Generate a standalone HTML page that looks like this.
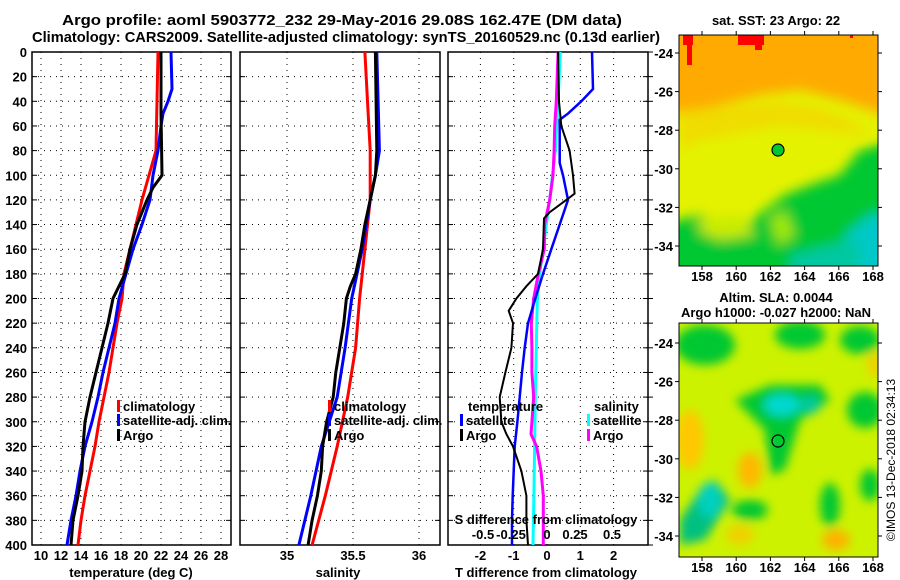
<!DOCTYPE html>
<html><head><meta charset="utf-8"><style>
html,body{margin:0;padding:0;background:#fff;}
svg{display:block;font-family:"Liberation Sans",sans-serif;font-weight:bold;}
</style></head><body>
<svg id="fig" width="900" height="580" viewBox="0 0 900 580" xmlns="http://www.w3.org/2000/svg">
<defs>
<filter id="blur1" x="-20%" y="-20%" width="140%" height="140%"><feGaussianBlur stdDeviation="6"/></filter>
<filter id="blur2" x="-20%" y="-20%" width="140%" height="140%"><feGaussianBlur stdDeviation="5"/></filter>
<clipPath id="cm1"><rect x="679" y="35" width="199" height="231"/></clipPath>
<clipPath id="cm2"><rect x="679" y="323" width="199" height="234"/></clipPath>
</defs>
<text x="62" y="25" font-size="15" textLength="560" lengthAdjust="spacingAndGlyphs">Argo profile: aoml 5903772_232 29-May-2016 29.08S 162.47E (DM data)</text>
<text x="32" y="42" font-size="15" textLength="628" lengthAdjust="spacingAndGlyphs">Climatology: CARS2009. Satellite-adjusted climatology: synTS_20160529.nc (0.13d earlier)</text>
<g id="plots"></g>

<!-- Map 1 -->
<g clip-path="url(#cm1)">
<rect x="679" y="35" width="199" height="231" fill="#e4f200"/>
<g filter="url(#blur1)">
<polygon points="660,20 900,20 900,120 870,110 840,100 800,90 760,95 720,105 690,112 660,112" fill="#ffaa00"/>
<polygon points="680,110 740,105 780,102 820,108 850,120 870,135 780,125 700,140 680,150" fill="#f2d600" opacity="0.8"/>
<polygon points="660,225 700,215 740,230 765,210 785,195 810,185 840,175 860,150 900,140 900,300 660,300" fill="#00c832"/>
<polygon points="845,235 870,215 900,210 900,300 840,300" fill="#00c8c8"/>
<polygon points="790,255 830,245 860,240 860,300 790,300" fill="#00c8a0"/>
<polygon points="700,220 740,215 755,235 720,240 700,232" fill="#c8ec00"/>
<polygon points="770,220 785,210 795,235 778,245" fill="#a0e800"/>
</g>
<rect x="683" y="35" width="10" height="10" fill="#ff0000"/>
<rect x="687" y="45" width="5" height="20" fill="#ff0000"/>
<rect x="738" y="35" width="26" height="10" fill="#ff0000"/>
<rect x="755" y="45" width="7" height="5" fill="#ff0000"/>
<rect x="850" y="35" width="3" height="3" fill="#ff0000"/>
</g>
<rect x="679" y="35" width="199" height="231" fill="none" stroke="#000"/>
<circle cx="778" cy="150" r="6" fill="#00c832" stroke="#000" stroke-width="1.2"/>
<text x="776" y="25" font-size="13" text-anchor="middle">sat. SST: 23 Argo: 22</text>

<!-- Map 2 -->
<g clip-path="url(#cm2)">
<rect x="679" y="323" width="199" height="234" fill="#ccf200"/>
<g filter="url(#blur2)">
<ellipse cx="705" cy="345" rx="30" ry="20" fill="#00c832"/>
<ellipse cx="800" cy="335" rx="25" ry="14" fill="#00c832"/>
<ellipse cx="860" cy="340" rx="20" ry="14" fill="#00c832"/>
<polygon points="735,400 770,385 820,385 830,400 800,420 785,470 770,475 765,430" fill="#00c832"/>
<ellipse cx="782" cy="405" rx="18" ry="11" fill="#00d8d0"/>
<ellipse cx="810" cy="405" rx="10" ry="9" fill="#00c8a0"/>
<ellipse cx="865" cy="410" rx="18" ry="18" fill="#00c832"/>
<polygon points="680,520 700,490 715,480 730,500 705,540 680,545" fill="#00c080"/>
<ellipse cx="710" cy="500" rx="12" ry="18" fill="#00d0c0"/>
<ellipse cx="750" cy="510" rx="18" ry="10" fill="#00c832"/>
<ellipse cx="830" cy="505" rx="10" ry="22" fill="#00c832"/>
<ellipse cx="870" cy="485" rx="10" ry="16" fill="#00c832"/>
<ellipse cx="690" cy="440" rx="14" ry="30" fill="#ffc800"/>
<ellipse cx="750" cy="470" rx="12" ry="18" fill="#ffb800"/>
<ellipse cx="836" cy="540" rx="14" ry="10" fill="#ffb000"/>
<ellipse cx="740" cy="535" rx="14" ry="10" fill="#f0d000"/>
<ellipse cx="875" cy="365" rx="8" ry="12" fill="#f0d000"/>
</g>
</g>
<rect x="679" y="323" width="199" height="234" fill="none" stroke="#000"/>
<circle cx="778" cy="441" r="6" fill="none" stroke="#000" stroke-width="1.2"/>
<text x="776" y="302" font-size="13" text-anchor="middle">Altim. SLA: 0.0044</text>
<text x="776" y="317" font-size="13" text-anchor="middle">Argo h1000: -0.027 h2000: NaN</text>
<text transform="translate(895,460) rotate(-90)" font-size="12" font-weight="normal" text-anchor="middle">©IMOS 13-Dec-2018 02:34:13</text>
<g id="mapaxes"></g>
</svg>
<script>
// ---- data ----
const depthTicks = [0,20,40,60,80,100,120,140,160,180,200,220,240,260,280,300,320,340,360,380,400];
const tempTicks = [10,12,14,16,18,20,22,24,26,28];
const salTicks = [35,35.5,36];
const tdiffTicks = [-2,-1,0,1,2];
const sdiffTickLabels = ["-0.5","-0.25","0","0.25","0.5"];
const sdiffTickValues = [-0.5,-0.25,0,0.25,0.5];

const tClimDepth = [0,80,120,140,160,180,200,220,240,260,280,300,320,340,360,380,400];
const tClim = [21.7,21.5,20.1,19.5,18.9,18.3,18.1,17.6,17.2,16.8,16.3,15.8,15.4,14.9,14.4,14.0,13.7];
const tSatDepth = [0,30,40,50,60,80,100,120,140,160,180,200,220,240,260,280,300,320,340,360,380,400];
const tSat = [23.0,23.1,22.7,22.2,22.0,21.7,21.2,20.9,20.1,19.2,18.5,17.8,17.4,16.8,16.2,15.7,15.1,14.4,13.9,13.5,13.0,12.6];
const tArgoDepth = [0,50,100,110,120,140,160,180,200,220,240,260,280,300,320,340,360,380,400];
const tArgo = [22.0,22.0,22.1,21.2,20.6,19.6,18.9,18.4,17.2,16.7,16.1,15.5,14.9,14.4,14.2,14.1,13.7,13.2,13.0];

const sClimDepth = [0,40,80,120,160,200,240,280,320,360,400];
const sClim = [35.59,35.61,35.63,35.63,35.59,35.55,35.52,35.46,35.38,35.29,35.19];
const sSatDepth = [0,40,80,100,120,140,160,180,200,240,280,320,360,400];
const sSat = [35.68,35.69,35.70,35.67,35.63,35.60,35.57,35.53,35.49,35.44,35.38,35.26,35.18,35.09];
const sArgoDepth = [0,80,100,110,120,140,160,180,190,200,220,240,260,280,300,320,340,360,380,400];
const sArgo = [35.67,35.68,35.67,35.65,35.63,35.59,35.56,35.52,35.48,35.45,35.43,35.40,35.37,35.35,35.30,35.27,35.26,35.23,35.19,35.16];

const dTSatDepth = [0,30,40,50,55,90,100,120,140,160,180,200,220,240,260,280,300,320,340,360,380,400];
const dTSat = [1.35,1.38,1.03,0.63,0.38,0.38,0.48,0.63,0.38,0.13,-0.12,-0.35,-0.57,-0.67,-0.75,-0.82,-0.89,-0.97,-1.0,-1.03,-1.05,-1.05];
const dTArgoDepth = [0,40,60,80,100,115,120,130,135,160,180,190,200,210,220,240,260,280,300,310,320,340,360,380,400];
const dTArgo = [0.33,0.36,0.43,0.68,0.78,0.83,0.58,0.08,-0.09,-0.12,-0.27,-0.62,-0.92,-1.15,-1.02,-1.07,-1.25,-1.42,-1.37,-1.22,-1.02,-0.77,-0.62,-0.62,-0.57];
const dSSatDepth = [0,40,80,120,160,180,200,240,280,320,360,400];
const dSSat = [0.10,0.083,0.062,0.02,-0.03,-0.055,-0.073,-0.08,-0.088,-0.093,-0.098,-0.105];
const dSArgoDepth = [0,40,60,80,100,120,140,160,180,200,220,240,260,280,300,310,320,340,360,380,400];
const dSArgo = [0.083,0.07,0.058,0.053,0.045,0.02,-0.018,-0.02,-0.065,-0.1,-0.118,-0.113,-0.113,-0.1,-0.113,-0.12,-0.078,-0.045,-0.028,-0.028,-0.028];

const lonTicks = [158,160,162,164,166,168];
const latTicks = [-24,-26,-28,-30,-32,-34];

// ---- drawing ----
const NS = "http://www.w3.org/2000/svg";
const root = document.getElementById('plots');
function mk(tag, attrs, parent){ const e=document.createElementNS(NS,tag); for(const k in attrs) e.setAttribute(k,attrs[k]); (parent||root).appendChild(e); return e; }
const PT = 52, PB = 545;
const yD = d => PT + (d/400)*(PB-PT);

function panel(name, x0, x1, xScale, ticks, labels){
  const g = mk('g',{});
  
  
  depthTicks.forEach(d=>{ if(d>0&&d<400){ const l=mk('line',{x1:x0,x2:x1,y1:yD(d),y2:yD(d),stroke:'#000','stroke-width':1,'stroke-dasharray':'1,5'},g);   }
    mk('line',{x1:x0,x2:x0+5,y1:yD(d),y2:yD(d),stroke:'#000'},g); mk('line',{x1:x1-5,x2:x1,y1:yD(d),y2:yD(d),stroke:'#000'},g); });
  ticks.forEach(t=>{ const x=xScale(t); const l=mk('line',{x1:x,x2:x,y1:PT,y2:PB,stroke:'#000','stroke-width':1,'stroke-dasharray':'1,5'},g);   });
  const fr = mk('rect',{x:x0,y:PT,width:x1-x0,height:PB-PT,fill:'none',stroke:'#000','stroke-width':1.5},g);
  
  
  if(labels){ ticks.forEach((t,i)=>{ const tx=mk('text',{x:xScale(t),y:560,'font-size':13,'text-anchor':'middle'},g); tx.textContent=labels[i];
      }); }
  return g;
}
function series(g, name, depths, vals, xScale, color, w){
  const pts = depths.map((d,i)=>xScale(vals[i]).toFixed(1)+','+yD(d).toFixed(1)).join(' ');
  const p = mk('polyline',{points:pts,fill:'none',stroke:color,'stroke-width':w,'stroke-linejoin':'miter'},g);
  
  
}
function txt(s,x,y,size,anchor,name){ const t=mk('text',{x:x,y:y,'font-size':size,'text-anchor':anchor||'start'}); t.textContent=s;
    return t; }
function legend(x,y,color,label,name){ const r=mk('rect',{x:x,y:y-11,width:3,height:12,fill:color});
   
  txt(label,x+6,y,13,'start',name+'-label'); }

depthTicks.forEach(d=>{ txt(String(d),27,yD(d)+5,13,'end','y-tick-label'); });

const xT = t => 41 + (t-10)*10;
const g1 = panel('temperature-panel',32,231,xT,tempTicks,tempTicks.map(String));
series(g1,'temp-climatology-line',tClimDepth,tClim,xT,'#ff0000',3);
series(g1,'temp-satellite-line',tSatDepth,tSat,xT,'#0000ff',3);
series(g1,'temp-argo-line',tArgoDepth,tArgo,xT,'#000000',3);
txt('temperature (deg C)',131,577,13,'middle','temperature-axis-title');
legend(117,411,'#ff0000','climatology','legend-climatology');
legend(117,425,'#0000ff','satellite-adj. clim.','legend-satellite');
legend(117,440,'#000000','Argo','legend-argo');

const xS = s => 287 + (s-35)*132;
const g2 = panel('salinity-panel',240,440,xS,salTicks,['35','35.5','36']);
series(g2,'sal-climatology-line',sClimDepth,sClim,xS,'#ff0000',3);
series(g2,'sal-satellite-line',sSatDepth,sSat,xS,'#0000ff',3);
series(g2,'sal-argo-line',sArgoDepth,sArgo,xS,'#000000',3);
txt('salinity',338,577,13,'middle','salinity-axis-title');
legend(328,411,'#ff0000','climatology','legend-sal-climatology');
legend(328,425,'#0000ff','satellite-adj. clim.','legend-sal-satellite');
legend(328,440,'#000000','Argo','legend-sal-argo');

const xDT = v => 547 + v*33.3;
const xDS = v => 547 + v*133.3;
const g3 = panel('difference-panel',448,648,xDT,tdiffTicks,tdiffTicks.map(String));
depthTicks.forEach(d=>{ mk('line',{x1:648,x2:653,y1:yD(d),y2:yD(d),stroke:'#000'},g3); });
series(g3,'sdiff-satellite-line',dSSatDepth,dSSat,xDS,'#00ffff',3);
series(g3,'sdiff-argo-line',dSArgoDepth,dSArgo,xDS,'#ff00ff',3);
series(g3,'tdiff-satellite-line',dTSatDepth,dTSat,xDT,'#0000ff',2.5);
series(g3,'tdiff-argo-line',dTArgoDepth,dTArgo,xDT,'#000000',2);
txt('S difference from climatology',546,524,13,'middle','sdiff-axis-title');
const sdx=[483,511,547,575,612];
sdiffTickValues.forEach((v,i)=>{ txt(sdiffTickLabels[i],sdx[i],539,13,'middle','sdiff-tick-label'); });
txt('T difference from climatology',546,577,13,'middle','tdiff-axis-title');
txt('temperature',468,411,13,'start','legend-temperature-heading');
legend(460,425,'#0000ff','satellite','legend-tdiff-satellite');
legend(460,440,'#000000','Argo','legend-tdiff-argo');
txt('salinity',594,411,13,'start','legend-salinity-heading');
legend(587,425,'#00ffff','satellite','legend-sdiff-satellite');
legend(587,440,'#ff00ff','Argo','legend-sdiff-argo');

const mroot = document.getElementById('mapaxes');
const xLon = l => 702 + (l-158)*17.1;
function mapAxes(top,bottom,lat0y,lab){
  const yLat = la => lat0y + (-24-la)*19.3;
  lonTicks.forEach(l=>{ const x=xLon(l);
    mk('line',{x1:x,x2:x,y1:bottom,y2:bottom+4,stroke:'#000'},mroot); mk('line',{x1:x,x2:x,y1:top,y2:top-4,stroke:'#000'},mroot);
    const t=mk('text',{x:x,y:bottom+15,'font-size':13,'text-anchor':'middle'},mroot); t.textContent=String(l);
      });
  latTicks.forEach(la=>{ const y=yLat(la);
    mk('line',{x1:675,x2:679,y1:y,y2:y,stroke:'#000'},mroot); mk('line',{x1:878,x2:882,y1:y,y2:y,stroke:'#000'},mroot);
    const t=mk('text',{x:673,y:y+5,'font-size':13,'text-anchor':'end'},mroot); t.textContent=String(la);
      });
}
mapAxes(35,266,53,'sst-map');
mapAxes(323,557,343,'sla-map');
</script>
</body></html>
